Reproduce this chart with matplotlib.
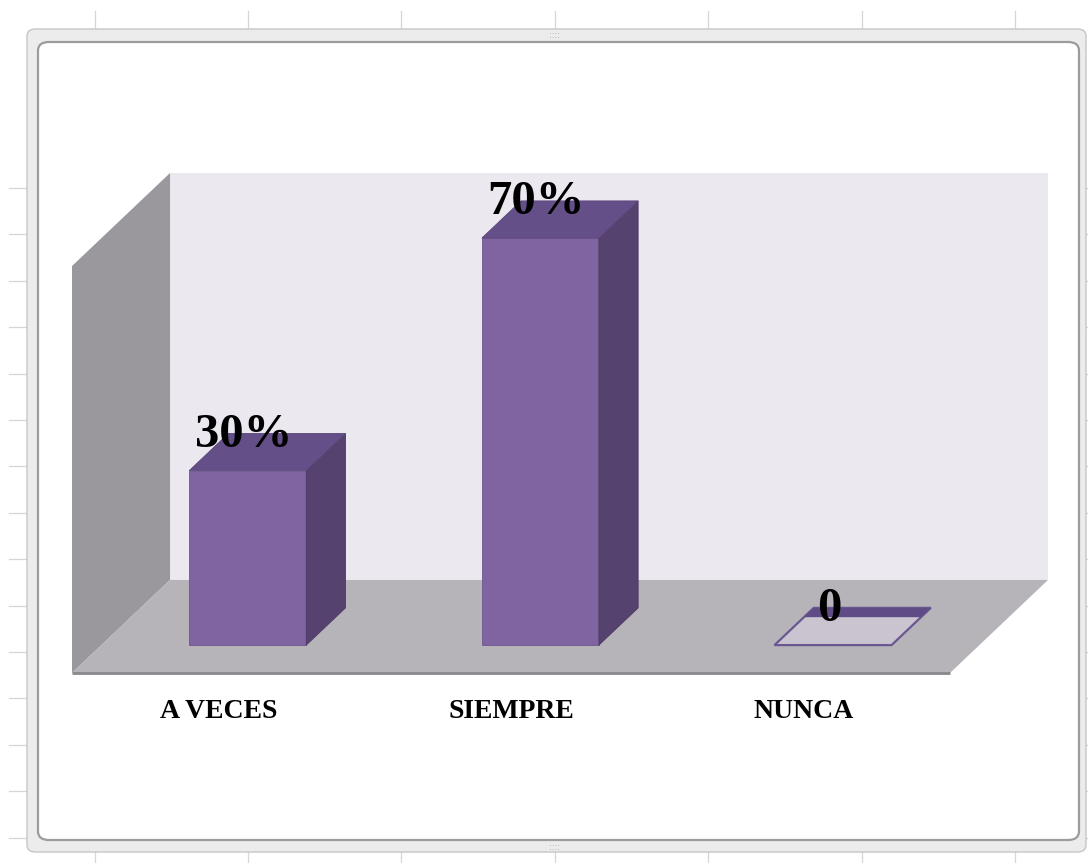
import matplotlib.pyplot as plt
from matplotlib.patches import Polygon, FancyBboxPatch
from matplotlib.lines import Line2D

# data
categories = ['A VECES', 'SIEMPRE', 'NUNCA']
values = [30, 70, 0]
value_labels = ['30%', '70%', '0']
y_max = 70

W, H = 1088, 863
fig = plt.figure(figsize=(W / 100, H / 100), dpi=100)
fig.patch.set_facecolor('white')

# spreadsheet grid peeking around the chart object
grid = '#d6d6d6'
for gx in [95, 248, 401, 555, 708, 862, 1015]:
    fig.add_artist(Line2D([gx / W] * 2, [1 - 11 / H, 1 - 29 / H], color=grid, lw=0.9, zorder=-3))
    fig.add_artist(Line2D([gx / W] * 2, [1 - 852 / H, 0], color=grid, lw=0.9, zorder=-3))
for k in range(15):
    gy = 1 - (188 + 46.4 * k) / H
    fig.add_artist(Line2D([9 / W, 27 / W], [gy, gy], color=grid, lw=0.9, zorder=-3))
    fig.add_artist(Line2D([1086 / W, 1], [gy, gy], color=grid, lw=0.9, zorder=-3))

# chart object frame
outer = FancyBboxPatch((27 / W, 1 - 852 / H), (1086 - 27) / W, (852 - 29) / H,
                       boxstyle='round,pad=0,rounding_size=0.008',
                       transform=fig.transFigure, fc='#ececec', ec='#c6c6c6', lw=1.0, zorder=-2)
inner = FancyBboxPatch((38 / W, 1 - 840 / H), (1079 - 38) / W, (840 - 42) / H,
                       boxstyle='round,pad=0,rounding_size=0.01',
                       transform=fig.transFigure, fc='white', ec='#9c9c9c', lw=1.6, zorder=-1)
fig.add_artist(outer)
fig.add_artist(inner)
# little resize handles on the frame
for hx, hy, s in [(555, 35, '::::'), (555, 847, '::::')]:
    fig.text(hx / W, 1 - hy / H, s, ha='center', va='center', fontsize=6, color='#9a9a9a', zorder=-1)

# plot area, oblique 3d projection done by hand
ax = fig.add_axes([72 / W, 1 - 673 / H, 976 / W, 500 / H])
ax.patch.set_alpha(0)
n = len(categories)
DX, DY = 0.335, 16.0   # offset of the back plane (category units, value units)
ax.set_xlim(0, n + DX)
ax.set_ylim(0, y_max + DY)
ax.axis('off')


def proj(x, v, d):
    return (x + DX * d, v + DY * d)


back = [proj(0, 0, 1), proj(n, 0, 1), proj(n, y_max, 1), proj(0, y_max, 1)]
left = [proj(0, 0, 0), proj(0, y_max, 0), proj(0, y_max, 1), proj(0, 0, 1)]
floor = [proj(0, 0, 0), proj(n, 0, 0), proj(n, 0, 1), proj(0, 0, 1)]
ax.add_patch(Polygon(back, closed=True, fc='#ebe8f0', ec='none'))
ax.add_patch(Polygon(left, closed=True, fc='#9a989d', ec='none'))
ax.add_patch(Polygon(floor, closed=True, fc='#b6b3b9', ec='none'))
ax.plot([0, n], [0, 0], color='#8a888d', lw=2, solid_capstyle='butt', clip_on=False)

front_c, side_c, top_c = '#8064a2', '#56426e', '#654f88'
d0, d1 = 0.3, 0.7
for i, v in enumerate(values):
    x0, x1 = i + 0.3, i + 0.7
    if v > 0:
        front = [proj(x0, 0, d0), proj(x1, 0, d0), proj(x1, v, d0), proj(x0, v, d0)]
        side = [proj(x1, 0, d0), proj(x1, 0, d1), proj(x1, v, d1), proj(x1, v, d0)]
        top = [proj(x0, v, d0), proj(x1, v, d0), proj(x1, v, d1), proj(x0, v, d1)]
        ax.add_patch(Polygon(front, closed=True, fc=front_c, ec='#6e5690', lw=0.6))
        ax.add_patch(Polygon(side, closed=True, fc=side_c, ec='#4c3a62', lw=0.6))
        ax.add_patch(Polygon(top, closed=True, fc=top_c, ec='#5a467a', lw=0.6))
    else:
        top = [proj(x0, v, d0), proj(x1, v, d0), proj(x1, v, d1), proj(x0, v, d1)]
        band = [proj(x0, v, 0.6), proj(x1, v, 0.6), proj(x1, v, d1), proj(x0, v, d1)]
        ax.add_patch(Polygon(top, closed=True, fc='#c9c4d0', ec='#6b5791', lw=1.6))
        ax.add_patch(Polygon(band, closed=True, fc='#5f4b85', ec='none'))

    # value label above the bar top
    ax.annotate(value_labels[i], xy=proj(i + 0.5, v, 0.5), xytext=(-17, 4),
                textcoords='offset points', ha='center', va='baseline',
                fontsize=35, fontweight='bold', family='Liberation Serif',
                color='black', annotation_clip=False)
    # category label under the floor
    ax.annotate(categories[i], xy=proj(i + 0.5, 0, 0), xytext=(0, -28),
                textcoords='offset points', ha='center', va='center',
                fontsize=20, fontweight='bold', family='Liberation Serif',
                color='black', annotation_clip=False)

fig.savefig('out.png', dpi=100)
